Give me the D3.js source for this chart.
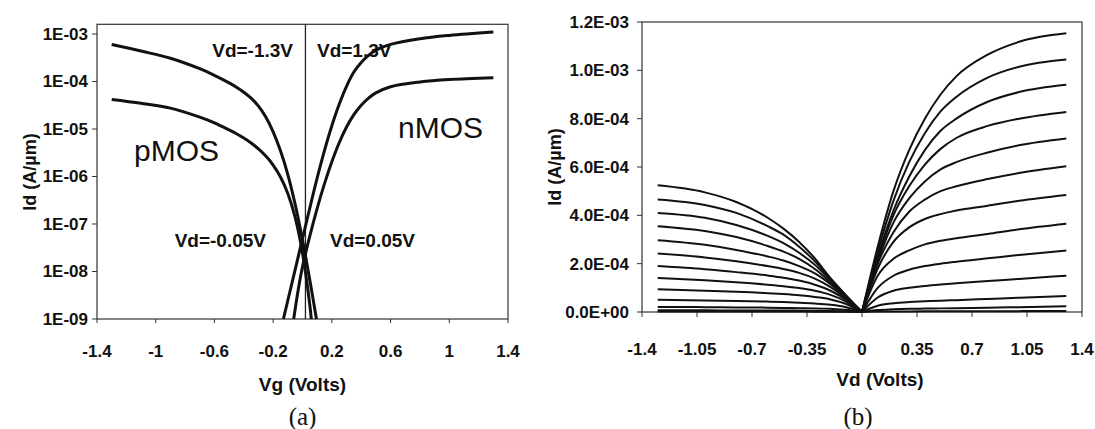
<!DOCTYPE html>
<html>
<head>
<meta charset="utf-8">
<script src="https://cdn.jsdelivr.net/npm/d3@7/dist/d3.min.js"></script>
<style>
  body { margin: 0; background: #fff; }
  svg text { font-family: "Liberation Sans", Arial, sans-serif; font-weight: bold; fill: #111; }
  .big { font-weight: normal !important; font-size: 30px; }
  .cap { font-family: "Liberation Serif", "Times New Roman", serif !important; font-weight: normal !important; font-size: 25px; }
</style>
</head>
<body>
<svg width="1095" height="429"></svg>
<script>
// ---- panel (a): Id vs Vg, log scale. pairs are [Vg (V), Id (A/um)]
var pmosHigh = [[-1.3, 6.03e-4], [-1.1, 4.37e-4], [-0.9, 3.09e-4], [-0.7, 1.86e-4], [-0.6, 1.35e-4],
  [-0.5, 9.33e-5], [-0.45, 7.59e-5], [-0.4, 5.96e-5], [-0.35, 4.47e-5], [-0.3, 3.02e-5],
  [-0.25, 1.78e-5], [-0.2, 8.71e-6], [-0.15, 3.47e-6], [-0.1, 1.10e-6], [-0.05, 2.60e-7],
  [0, 4.62e-8], [0.05, 6.53e-9], [0.095, 1e-9]]; // Vd=-1.3V
var pmosLow = [[-1.3, 4.17e-5], [-1.1, 3.47e-5], [-0.9, 2.75e-5], [-0.7, 1.78e-5], [-0.6, 1.35e-5],
  [-0.5, 9.55e-6], [-0.45, 7.94e-6], [-0.4, 6.46e-6], [-0.35, 5.07e-6], [-0.3, 3.80e-6],
  [-0.25, 2.69e-6], [-0.2, 1.74e-6], [-0.15, 9.77e-7], [-0.1, 4.37e-7], [-0.05, 1.38e-7],
  [0, 2.45e-8], [0.05, 1.95e-9], [0.06, 1e-9]]; // Vd=-0.05V
var nmosHigh = [[-0.13, 1e-9], [-0.1, 2.45e-9], [-0.05, 1.10e-8], [0, 4.90e-8], [0.05, 2.19e-7],
  [0.1, 9.33e-7], [0.15, 3.55e-6], [0.2, 1.17e-5], [0.25, 3.31e-5], [0.3, 7.94e-5], [0.35, 1.58e-4],
  [0.4, 2.51e-4], [0.45, 3.55e-4], [0.5, 4.57e-4], [0.6, 6.03e-4], [0.8, 7.94e-4], [1.0, 9.33e-4],
  [1.3, 1.10e-3]]; // Vd=1.3V
var nmosLow = [[-0.06, 1e-9], [-0.03, 3.98e-9], [0, 1.26e-8], [0.05, 5.62e-8], [0.1, 2.14e-7],
  [0.15, 7.08e-7], [0.2, 2.04e-6], [0.25, 5.13e-6], [0.3, 1.10e-5], [0.35, 2.00e-5], [0.4, 3.16e-5],
  [0.45, 4.47e-5], [0.5, 5.75e-5], [0.6, 7.76e-5], [0.8, 9.77e-5], [1.0, 1.10e-4], [1.3, 1.20e-4]]; // Vd=0.05V
var dividerVg = 0.02;

var aXTicks = [-1.4, -1, -0.6, -0.2, 0.2, 0.6, 1, 1.4];
var aYTicks = [1e-9, 1e-8, 1e-7, 1e-6, 1e-5, 1e-4, 1e-3];
var aYLabels = ["1E-09", "1E-08", "1E-07", "1E-06", "1E-05", "1E-04", "1E-03"];

// ---- panel (b): Id vs Vd, linear. currents in mA/um (1E-03 A/um)
var vdGrid = [0, 0.1, 0.2, 0.3, 0.4, 0.5, 0.6, 0.8, 1.0, 1.3];
var nmosCurves = [
  [0, 0.27, 0.50, 0.67, 0.80, 0.90, 0.975, 1.065, 1.118, 1.153], // Vg=1.3
  [0, 0.25, 0.46, 0.62, 0.74, 0.83, 0.89, 0.97, 1.015, 1.045],
  [0, 0.23, 0.42, 0.56, 0.67, 0.75, 0.80, 0.87, 0.91, 0.940],
  [0, 0.22, 0.40, 0.52, 0.61, 0.675, 0.72, 0.77, 0.80, 0.828],
  [0, 0.21, 0.37, 0.47, 0.54, 0.59, 0.62, 0.66, 0.69, 0.718],
  [0, 0.20, 0.33, 0.415, 0.465, 0.50, 0.52, 0.55, 0.575, 0.603],
  [0, 0.18, 0.29, 0.35, 0.385, 0.405, 0.42, 0.44, 0.46, 0.484],
  [0, 0.15, 0.22, 0.255, 0.28, 0.295, 0.305, 0.323, 0.342, 0.365],
  [0, 0.10, 0.15, 0.175, 0.19, 0.20, 0.208, 0.222, 0.236, 0.254],
  [0, 0.06, 0.088, 0.100, 0.108, 0.114, 0.119, 0.128, 0.137, 0.150],
  [0, 0.026, 0.036, 0.041, 0.044, 0.047, 0.049, 0.054, 0.059, 0.066],
  [0, 0.008, 0.011, 0.013, 0.014, 0.015, 0.016, 0.018, 0.020, 0.024],
  [0, 0.002, 0.002, 0.0025, 0.0027, 0.003, 0.003, 0.0033, 0.0036, 0.004] // Vg=0.1
];
// pMOS: same |Vd| grid, plotted at negative Vd
var pmosCurves = [
  [0, 0.068, 0.14, 0.222, 0.29, 0.345, 0.39, 0.455, 0.495, 0.524], // Vg=-1.3
  [0, 0.066, 0.135, 0.21, 0.27, 0.32, 0.355, 0.41, 0.443, 0.466],
  [0, 0.064, 0.13, 0.195, 0.245, 0.285, 0.315, 0.36, 0.39, 0.41],
  [0, 0.062, 0.122, 0.178, 0.22, 0.25, 0.273, 0.31, 0.335, 0.355],
  [0, 0.06, 0.115, 0.16, 0.19, 0.213, 0.23, 0.257, 0.278, 0.297],
  [0, 0.056, 0.103, 0.138, 0.162, 0.178, 0.19, 0.21, 0.226, 0.242],
  [0, 0.05, 0.088, 0.113, 0.13, 0.142, 0.151, 0.165, 0.177, 0.190],
  [0, 0.043, 0.071, 0.088, 0.099, 0.107, 0.113, 0.123, 0.131, 0.141],
  [0, 0.033, 0.052, 0.062, 0.069, 0.074, 0.078, 0.084, 0.088, 0.094],
  [0, 0.02, 0.03, 0.035, 0.038, 0.041, 0.043, 0.046, 0.048, 0.051],
  [0, 0.009, 0.013, 0.015, 0.016, 0.017, 0.018, 0.019, 0.020, 0.021],
  [0, 0.003, 0.0045, 0.005, 0.0055, 0.006, 0.006, 0.0065, 0.0068, 0.007],
  [0, 0.001, 0.0013, 0.0015, 0.0016, 0.0017, 0.0018, 0.0019, 0.002, 0.002] // Vg=-0.1
];
var bXTicks = [-1.4, -1.05, -0.7, -0.35, 0, 0.35, 0.7, 1.05, 1.4];
var bYTicks = [0, 0.2, 0.4, 0.6, 0.8, 1.0, 1.2];
var bYLabels = ["0.0E+00", "2.0E-04", "4.0E-04", "6.0E-04", "8.0E-04", "1.0E-03", "1.2E-03"];

var svg = d3.select("svg");

// ================= panel (a) =================
var ax = d3.scaleLinear().domain([-1.4, 1.4]).range([97, 508]);
var ay = d3.scaleLog().domain([1e-9, 1.6e-3]).range([319, 24.3]);

var ga = svg.append("g");

ga.append("rect")
  .attr("x", ax(-1.4)).attr("y", ay(1.6e-3))
  .attr("width", ax(1.4) - ax(-1.4)).attr("height", ay(1e-9) - ay(1.6e-3))
  .attr("fill", "none").attr("stroke", "#333").attr("stroke-width", 1.2);

// y ticks
ga.selectAll(".yt").data(aYTicks).enter().append("line")
  .attr("x1", ax(-1.4) - 5).attr("x2", ax(-1.4))
  .attr("y1", function (d) { return ay(d); }).attr("y2", function (d) { return ay(d); })
  .attr("stroke", "#333");
ga.selectAll(".yl").data(aYTicks).enter().append("text")
  .attr("x", ax(-1.4) - 9)
  .attr("y", function (d) { return ay(d) + 6; })
  .attr("text-anchor", "end").attr("font-size", 17)
  .text(function (d, i) { return aYLabels[i]; });

// x ticks
ga.selectAll(".xt").data(aXTicks).enter().append("line")
  .attr("x1", function (d) { return ax(d); }).attr("x2", function (d) { return ax(d); })
  .attr("y1", ay(1e-9)).attr("y2", ay(1e-9) + 4)
  .attr("stroke", "#333");
ga.selectAll(".xl").data(aXTicks).enter().append("text")
  .attr("x", function (d) { return ax(d); })
  .attr("y", 357)
  .attr("text-anchor", "middle").attr("font-size", 17)
  .text(function (d) { return String(d); });

// divider between pMOS / nMOS halves
ga.append("line")
  .attr("x1", ax(dividerVg)).attr("x2", ax(dividerVg))
  .attr("y1", ay(1.6e-3)).attr("y2", ay(1e-9))
  .attr("stroke", "#222").attr("stroke-width", 1.3);

var lineA = d3.line()
  .x(function (d) { return ax(d[0]); })
  .y(function (d) { return ay(d[1]); })
  .curve(d3.curveCatmullRom.alpha(0.5));

[pmosHigh, pmosLow, nmosHigh, nmosLow].forEach(function (c) {
  ga.append("path").datum(c).attr("d", lineA)
    .attr("fill", "none").attr("stroke", "#111").attr("stroke-width", 3);
});

// annotations
ga.append("text").attr("x", 293).attr("y", 57).attr("text-anchor", "end").attr("font-size", 19).text("Vd=-1.3V");
ga.append("text").attr("x", 317).attr("y", 57).attr("font-size", 19).text("Vd=1.3V");
ga.append("text").attr("x", 266).attr("y", 247).attr("text-anchor", "end").attr("font-size", 19).text("Vd=-0.05V");
ga.append("text").attr("x", 330).attr("y", 247).attr("font-size", 19).text("Vd=0.05V");
ga.append("text").attr("class", "big").attr("x", 134).attr("y", 161).text("pMOS");
ga.append("text").attr("class", "big").attr("x", 398).attr("y", 138).text("nMOS");

ga.append("text").attr("x", ax(0)).attr("y", 391).attr("text-anchor", "middle").attr("font-size", 19).text("Vg (Volts)");
ga.append("text").attr("transform", "translate(36,172) rotate(-90)").attr("text-anchor", "middle")
  .attr("font-size", 18).text("Id (A/µm)");
ga.append("text").attr("class", "cap").attr("x", ax(0)).attr("y", 425).attr("text-anchor", "middle").text("(a)");

// ================= panel (b) =================
var bx = d3.scaleLinear().domain([-1.4, 1.4]).range([642, 1082]);
var by = d3.scaleLinear().domain([0, 1.2]).range([312, 22]);

var gb = svg.append("g");

gb.append("rect")
  .attr("x", bx(-1.4)).attr("y", by(1.2))
  .attr("width", bx(1.4) - bx(-1.4)).attr("height", by(0) - by(1.2))
  .attr("fill", "none").attr("stroke", "#333").attr("stroke-width", 1.2);

gb.selectAll(".yt").data(bYTicks).enter().append("line")
  .attr("x1", bx(-1.4) - 5).attr("x2", bx(-1.4))
  .attr("y1", function (d) { return by(d); }).attr("y2", function (d) { return by(d); })
  .attr("stroke", "#333");
gb.selectAll(".yl").data(bYTicks).enter().append("text")
  .attr("x", bx(-1.4) - 13)
  .attr("y", function (d) { return by(d) + 6; })
  .attr("text-anchor", "end").attr("font-size", 17)
  .text(function (d, i) { return bYLabels[i]; });

gb.selectAll(".xt").data(bXTicks).enter().append("line")
  .attr("x1", function (d) { return bx(d); }).attr("x2", function (d) { return bx(d); })
  .attr("y1", by(0)).attr("y2", by(0) + 5)
  .attr("stroke", "#333");
gb.selectAll(".xl").data(bXTicks).enter().append("text")
  .attr("x", function (d) { return bx(d); })
  .attr("y", 355)
  .attr("text-anchor", "middle").attr("font-size", 17)
  .text(function (d) { return String(d); });

var lineB = d3.line()
  .x(function (d) { return bx(d[0]); })
  .y(function (d) { return by(d[1]); })
  .curve(d3.curveMonotoneX);

nmosCurves.forEach(function (c) {
  var pts = vdGrid.map(function (v, i) { return [v, c[i]]; });
  gb.append("path").datum(pts).attr("d", lineB)
    .attr("fill", "none").attr("stroke", "#111").attr("stroke-width", 2);
});
pmosCurves.forEach(function (c) {
  var pts = vdGrid.map(function (v, i) { return [-v, c[i]]; }).reverse();
  gb.append("path").datum(pts).attr("d", lineB)
    .attr("fill", "none").attr("stroke", "#111").attr("stroke-width", 2);
});

gb.append("text").attr("x", 880).attr("y", 386).attr("text-anchor", "middle").attr("font-size", 19).text("Vd (Volts)");
gb.append("text").attr("transform", "translate(561,167) rotate(-90)").attr("text-anchor", "middle")
  .attr("font-size", 18).text("Id (A/µm)");
gb.append("text").attr("class", "cap").attr("x", 858).attr("y", 425).attr("text-anchor", "middle").text("(b)");
</script>
</body>
</html>
